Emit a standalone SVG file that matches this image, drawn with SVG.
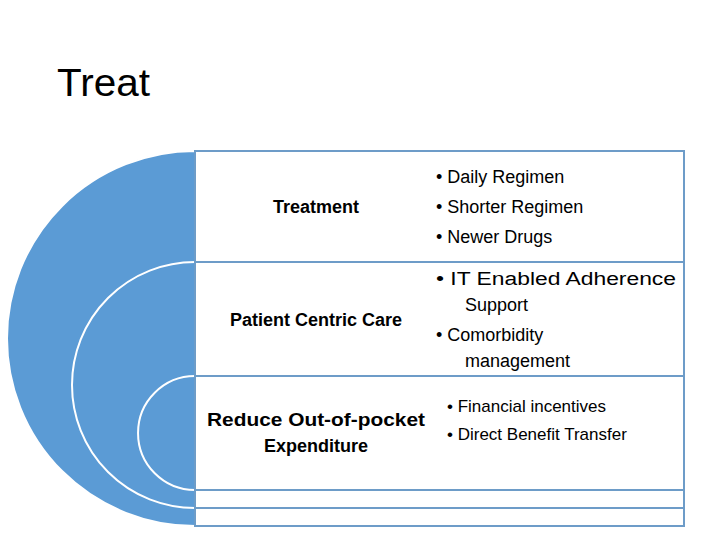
<svg xmlns="http://www.w3.org/2000/svg" width="720" height="540" viewBox="0 0 720 540">
<style>
.t{font-family:"Liberation Sans",Arial,sans-serif;fill:#000}
.h{font-weight:bold;font-size:18px;text-anchor:middle}
.b{font-size:18px}
.s{font-size:17px}
.r{fill:#fff;stroke:#6D9CC8;stroke-width:2}
.arc{fill:#5B9BD5;stroke:#fff;stroke-width:2}
</style>
<rect width="720" height="540" fill="#fff"/>
<text class="t" x="57" y="96" font-size="38" textLength="93" lengthAdjust="spacingAndGlyphs">Treat</text>
<g id="circles">
<path class="arc" d="M195,151 A188,187.5 0 0 0 195,526 Z" stroke="none"/>
<path class="arc" d="M195,262 A123,123 0 0 0 195,508"/>
<path class="arc" d="M195,376 A57,57 0 0 0 195,490"/>
</g>
<g id="rows">
<rect class="r" x="195" y="151" width="489" height="375"/>
<line class="r" x1="195" y1="262" x2="684" y2="262"/>
<line class="r" x1="195" y1="376" x2="684" y2="376"/>
<line class="r" x1="195" y1="490" x2="684" y2="490"/>
<line class="r" x1="195" y1="508" x2="684" y2="508"/>
</g>
<g id="treatment">
<text class="t h" x="316" y="213">Treatment</text>
<text class="t b" x="436" y="183">• Daily Regimen</text>
<text class="t b" x="436" y="213">• Shorter Regimen</text>
<text class="t b" x="436" y="243">• Newer Drugs</text>
</g>
<g id="patient">
<text class="t h" x="316" y="326">Patient Centric Care</text>
<text class="t b" x="436" y="285" textLength="240" lengthAdjust="spacingAndGlyphs">• IT Enabled Adherence</text>
<text class="t b" x="465" y="311">Support</text>
<text class="t b" x="436" y="341">• Comorbidity</text>
<text class="t b" x="465" y="367">management</text>
</g>
<g id="oop">
<text class="t h" x="316" y="426" textLength="218" lengthAdjust="spacingAndGlyphs">Reduce Out-of-pocket</text>
<text class="t h" x="316" y="452">Expenditure</text>
<text class="t s" x="447" y="412">• Financial incentives</text>
<text class="t s" x="447" y="440">• Direct Benefit Transfer</text>
</g>
</svg>
